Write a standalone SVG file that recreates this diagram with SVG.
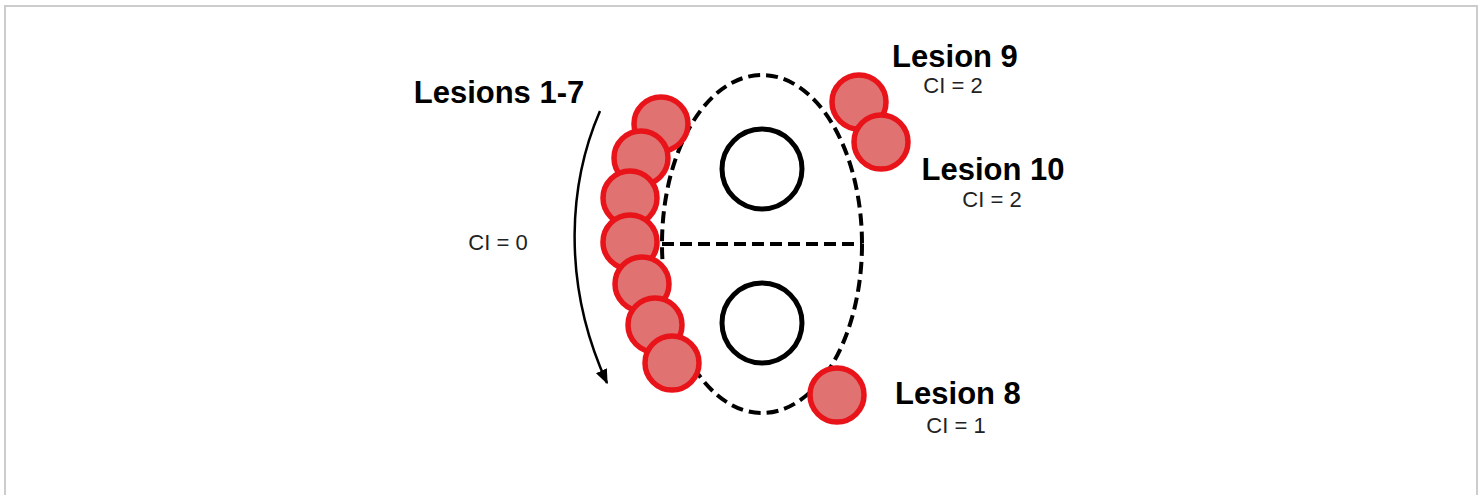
<svg xmlns="http://www.w3.org/2000/svg" width="1481" height="495" viewBox="0 0 1481 495">
<defs>
<style>
.frame{fill:none;stroke:#cccccc;stroke-width:2}
.dash{fill:none;stroke:#000;stroke-width:4;stroke-dasharray:12 6}
.ring{fill:none;stroke:#000;stroke-width:5}
.lesion{fill:#e07272;stroke:#e8141a;stroke-width:5.5}
.title{font-family:"Liberation Sans",Arial,sans-serif;font-weight:bold;font-size:31px;fill:#000;text-anchor:middle}
.ci{font-family:"Liberation Sans",Arial,sans-serif;font-size:22px;fill:#222;text-anchor:middle}
.arrow{fill:none;stroke:#000;stroke-width:2.5}
</style>
<marker id="ah" viewBox="0 0 10 10" refX="9" refY="5" markerWidth="6" markerHeight="6" orient="auto" markerUnits="strokeWidth">
<path d="M0,1 L10,5 L0,9 Z" fill="#000"/>
</marker>
</defs>
<rect width="1481" height="495" fill="#fff"/>
<path class="frame" d="M5,495 V6 H1477 V495"/>
<g id="organ">
<ellipse class="dash" cx="762" cy="244" rx="100" ry="169"/>
<line class="dash" x1="662" y1="244" x2="862" y2="244"/>
<circle class="ring" cx="762" cy="169" r="40"/>
<circle class="ring" cx="762" cy="323" r="40"/>
</g>
<g id="connectors">
<path class="arrow" d="M600,111 C570,180 560,280 607,383" marker-end="url(#ah)"/>
</g>
<g id="lesions-1-7">
<circle class="lesion" cx="661" cy="124" r="27"/>
<circle class="lesion" cx="641" cy="158" r="27"/>
<circle class="lesion" cx="630" cy="198" r="27"/>
<circle class="lesion" cx="630" cy="242" r="27"/>
<circle class="lesion" cx="642" cy="284" r="27"/>
<circle class="lesion" cx="655" cy="325" r="27"/>
<circle class="lesion" cx="672" cy="363" r="27"/>
<text class="title" x="499" y="103">Lesions 1-7</text>
<text class="ci" x="498" y="250">CI = 0</text>
</g>
<g id="lesion-9">
<circle class="lesion" cx="859" cy="102" r="27"/>
<text class="title" x="955" y="67">Lesion 9</text>
<text class="ci" x="953" y="93">CI = 2</text>
</g>
<g id="lesion-10">
<circle class="lesion" cx="881" cy="142" r="27"/>
<text class="title" x="993" y="180">Lesion 10</text>
<text class="ci" x="992" y="207">CI = 2</text>
</g>
<g id="lesion-8">
<circle class="lesion" cx="837" cy="395" r="27"/>
<text class="title" x="958" y="404">Lesion 8</text>
<text class="ci" x="956" y="433">CI = 1</text>
</g>
</svg>
